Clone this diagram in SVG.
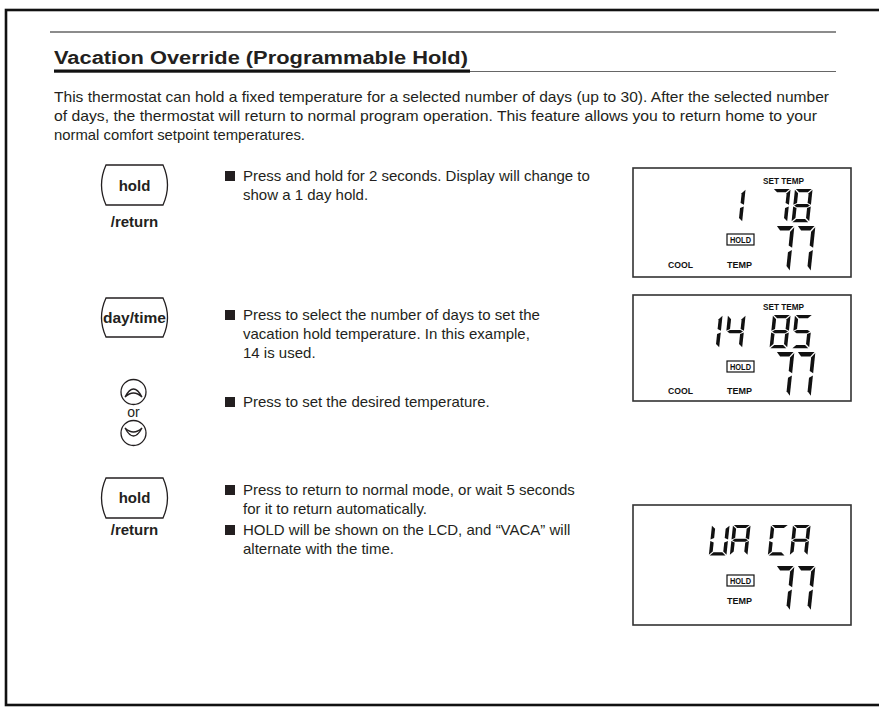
<svg xmlns="http://www.w3.org/2000/svg" width="879" height="707" viewBox="0 0 879 707">
<style>
.body{font-family:"Liberation Sans","DejaVu Sans",sans-serif;font-size:15px;fill:#231f20}
.title{font-family:"Liberation Sans","DejaVu Sans",sans-serif;font-size:18px;font-weight:bold;fill:#231f20}
.btn{fill:none;stroke:#231f20;stroke-width:1.3}
.btxt{font-family:"Liberation Sans","DejaVu Sans",sans-serif;font-size:15px;font-weight:bold;fill:#231f20;text-anchor:middle}
.or{font-family:"Liberation Sans","DejaVu Sans",sans-serif;font-size:14px;fill:#231f20;text-anchor:middle}
.bul{fill:#231f20}
.lcd{fill:#fff;stroke:#333;stroke-width:1.6}
.lbl{font-family:"Liberation Sans Narrow","Liberation Sans",sans-serif;font-size:9px;font-weight:bold;fill:#111}
.hold{fill:none;stroke:#111;stroke-width:1.2}
.seg{fill:#111}
</style>
<defs>
<path id="sa" d="M1,0H19L15,4H5Z"/>
<path id="sb" d="M20,1V19L16,17V5Z"/>
<path id="sc" d="M20,21V39L16,35V23Z"/>
<path id="sd" d="M1,40H19L15,36H5Z"/>
<path id="se" d="M0,21V39L4,35V23Z"/>
<path id="sf" d="M0,1V19L4,17V5Z"/>
<path id="sg" d="M1,20L4,18H16L19,20L16,22H4Z"/>
<g id="d1" class="seg"><use href="#sb"/><use href="#sc"/></g>
<g id="d4" class="seg"><use href="#sf"/><use href="#sg"/><use href="#sb"/><use href="#sc"/></g>
<g id="d5" class="seg"><use href="#sa"/><use href="#sf"/><use href="#sg"/><use href="#sc"/><use href="#sd"/></g>
<g id="d7" class="seg"><use href="#sa"/><use href="#sb"/><use href="#sc"/></g>
<g id="d8" class="seg"><use href="#sa"/><use href="#sb"/><use href="#sc"/><use href="#sd"/><use href="#se"/><use href="#sf"/><use href="#sg"/></g>
<g id="dV" class="seg"><use href="#sb"/><use href="#sc"/><use href="#sd"/><use href="#se"/><use href="#sf"/></g>
<g id="dA" class="seg"><use href="#sa"/><use href="#sb"/><use href="#sc"/><use href="#se"/><use href="#sf"/><use href="#sg"/></g>
<g id="dC" class="seg"><use href="#sa"/><use href="#sd"/><use href="#se"/><use href="#sf"/></g>
</defs>

<g id="frame">
<rect x="6" y="10" width="900" height="695" fill="none" stroke="#111" stroke-width="2.6"/>
</g>

<g id="header">
<line x1="50" y1="32" x2="836" y2="32" stroke="#666" stroke-width="1.5"/>
<text class="title" x="54" y="64" textLength="414" lengthAdjust="spacingAndGlyphs">Vacation Override (Programmable Hold)</text>
<rect x="54" y="69.5" width="416" height="3.2" fill="#111"/>
<line x1="470" y1="71.5" x2="836" y2="71.5" stroke="#666" stroke-width="1.2"/>
</g>

<g id="intro">
<text class="body" x="54" y="102" textLength="775" lengthAdjust="spacingAndGlyphs">This thermostat can hold a fixed temperature for a selected number of days (up to 30). After the selected number</text>
<text class="body" x="54" y="121" textLength="763" lengthAdjust="spacingAndGlyphs">of days, the thermostat will return to normal program operation. This feature allows you to return home to your</text>
<text class="body" x="54" y="140" textLength="251" lengthAdjust="spacingAndGlyphs">normal comfort setpoint temperatures.</text>
</g>

<g id="step1">
<path class="btn" d="M106,165H163Q172,185 163,205H106Q97,185 106,165Z"/>
<text class="btxt" x="134.5" y="191">hold</text>
<text class="btxt" x="134.5" y="227">/return</text>
<rect class="bul" x="225" y="171" width="10" height="10"/>
<text class="body" x="243" y="181">Press and hold for 2 seconds. Display will change to</text>
<text class="body" x="243" y="200">show a 1 day hold.</text>
</g>

<g id="lcd1">
<rect class="lcd" x="633" y="168" width="218" height="109"/>
<text class="lbl" x="763" y="184" textLength="41" lengthAdjust="spacingAndGlyphs">SET TEMP</text>
<use href="#d1" transform="translate(728,189) skewX(-6) scale(0.88,0.83)"/>
<use href="#d7" transform="translate(773,189) skewX(-6) scale(0.88,0.83)"/>
<use href="#d8" transform="translate(795,189) skewX(-6) scale(0.88,0.83)"/>
<rect class="hold" x="727" y="234" width="27" height="11"/>
<text class="lbl" x="740.5" y="243" font-size="8.5" text-anchor="middle" textLength="21" lengthAdjust="spacingAndGlyphs">HOLD</text>
<use href="#d7" transform="translate(776,226) skewX(-6) scale(0.92,1.14)"/>
<use href="#d7" transform="translate(797,226) skewX(-6) scale(0.92,1.14)"/>
<text class="lbl" x="668" y="268" textLength="25" lengthAdjust="spacingAndGlyphs">COOL</text>
<text class="lbl" x="727" y="268" textLength="25" lengthAdjust="spacingAndGlyphs">TEMP</text>
</g>

<g id="step2">
<path class="btn" d="M106,298H163Q172,317.5 163,337H106Q97,317.5 106,298Z"/>
<text class="btxt" x="134.5" y="323" style="font-size:14px" textLength="63" lengthAdjust="spacingAndGlyphs">day/time</text>
<rect class="bul" x="225" y="310" width="10" height="10"/>
<text class="body" x="243" y="320">Press to select the number of days to set the</text>
<text class="body" x="243" y="339">vacation hold temperature. In this example,</text>
<text class="body" x="243" y="358">14 is used.</text>
</g>

<g id="lcd2">
<rect class="lcd" x="633" y="295" width="218" height="106"/>
<text class="lbl" x="763" y="310" textLength="41" lengthAdjust="spacingAndGlyphs">SET TEMP</text>
<use href="#d1" transform="translate(705,315) skewX(-6) scale(0.88,0.83)"/>
<use href="#d4" transform="translate(728,315) skewX(-6) scale(0.88,0.83)"/>
<use href="#d8" transform="translate(773,315) skewX(-6) scale(0.88,0.83)"/>
<use href="#d5" transform="translate(795,315) skewX(-6) scale(0.88,0.83)"/>
<rect class="hold" x="727" y="361" width="27" height="11"/>
<text class="lbl" x="740.5" y="370" font-size="8.5" text-anchor="middle" textLength="21" lengthAdjust="spacingAndGlyphs">HOLD</text>
<use href="#d7" transform="translate(776,352) skewX(-6) scale(0.92,1.12)"/>
<use href="#d7" transform="translate(797,352) skewX(-6) scale(0.92,1.12)"/>
<text class="lbl" x="668" y="394" textLength="25" lengthAdjust="spacingAndGlyphs">COOL</text>
<text class="lbl" x="727" y="394" textLength="25" lengthAdjust="spacingAndGlyphs">TEMP</text>
</g>

<g id="step3">
<circle class="btn" cx="133.5" cy="392" r="12.5"/>
<path class="btn" d="M125,397Q133.5,381 142,397Q133.5,389 125,397Z"/>
<text class="or" x="133.5" y="417">or</text>
<circle class="btn" cx="133.5" cy="433" r="12.5"/>
<path class="btn" d="M125,428Q133.5,444 142,428Q133.5,436 125,428Z"/>
<rect class="bul" x="225" y="397" width="10" height="10"/>
<text class="body" x="243" y="407">Press to set the desired temperature.</text>
</g>

<g id="step4">
<path class="btn" d="M106,478H163Q172,498 163,518H106Q97,498 106,478Z"/>
<text class="btxt" x="134.5" y="503">hold</text>
<text class="btxt" x="134.5" y="535">/return</text>
<rect class="bul" x="225" y="485" width="10" height="10"/>
<text class="body" x="243" y="495">Press to return to normal mode, or wait 5 seconds</text>
<text class="body" x="243" y="514">for it to return automatically.</text>
<rect class="bul" x="225" y="525" width="10" height="10"/>
<text class="body" x="243" y="535">HOLD will be shown on the LCD, and “VACA” will</text>
<text class="body" x="243" y="554">alternate with the time.</text>
</g>

<g id="lcd3">
<rect class="lcd" x="633" y="505" width="218" height="120"/>
<use href="#dV" transform="translate(712,525) skewX(-6) scale(0.88,0.76)"/>
<use href="#dA" transform="translate(733,525) skewX(-6) scale(0.88,0.76)"/>
<use href="#dC" transform="translate(771,525) skewX(-6) scale(0.88,0.76)"/>
<use href="#dA" transform="translate(793,525) skewX(-6) scale(0.88,0.76)"/>
<rect class="hold" x="727" y="575" width="27" height="11"/>
<text class="lbl" x="740.5" y="584" font-size="8.5" text-anchor="middle" textLength="21" lengthAdjust="spacingAndGlyphs">HOLD</text>
<use href="#d7" transform="translate(776,566) skewX(-6) scale(0.92,1.12)"/>
<use href="#d7" transform="translate(797,566) skewX(-6) scale(0.92,1.12)"/>
<text class="lbl" x="727" y="604" textLength="25" lengthAdjust="spacingAndGlyphs">TEMP</text>
</g>

<g id="connectors"/>
</svg>
